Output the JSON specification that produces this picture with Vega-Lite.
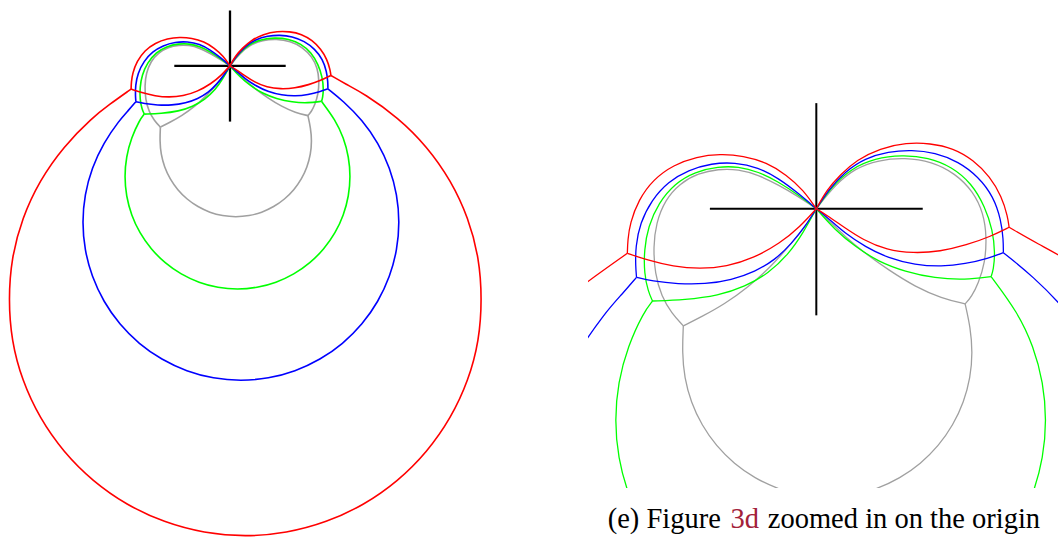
{
  "$schema": "https://vega.github.io/schema/vega-lite/v6.json",
  "padding": 0,
  "spacing": 98,
  "bounds": "flush",
  "background": "white",
  "config": {"view": {"stroke": null}},
  "datasets": {
    "cross": [
      {"seg": "h", "k": 0, "x": -55.7, "y": 0}, {"seg": "h", "k": 1, "x": 55.7, "y": 0},
      {"seg": "v", "k": 0, "x": 0, "y": -55.8}, {"seg": "v", "k": 1, "x": 0, "y": 55.3}
    ],
    "caption": [
      {"part": "(e) Figure", "x": -109.2, "y": -167.0},
      {"part": "3d", "x": -44.9, "y": -167.0},
      {"part": "zoomed in on the origin", "x": -25.4, "y": -167.0}
    ],
    "curves": [
      {"pen": "gray", "seg": "gLU", "k": 0, "x": 0, "y": 0},
      {"pen": "gray", "seg": "gLU", "k": 1, "x": -9.4, "y": 6.4},
      {"pen": "gray", "seg": "gLU", "k": 2, "x": -19.9, "y": 12.5},
      {"pen": "gray", "seg": "gLU", "k": 3, "x": -30.4, "y": 17.7},
      {"pen": "gray", "seg": "gLU", "k": 4, "x": -40.8, "y": 20.7},
      {"pen": "gray", "seg": "gLU", "k": 5, "x": -51.3, "y": 20.8},
      {"pen": "gray", "seg": "gLU", "k": 6, "x": -61.8, "y": 18.6},
      {"pen": "gray", "seg": "gLU", "k": 7, "x": -71.4, "y": 13.3},
      {"pen": "gray", "seg": "gLU", "k": 8, "x": -79.2, "y": 4.6},
      {"pen": "gray", "seg": "gLU", "k": 9, "x": -83.9, "y": -7.6},
      {"pen": "gray", "seg": "gLU", "k": 10, "x": -85.3, "y": -19.9},
      {"pen": "gray", "seg": "gLU", "k": 11, "x": -84.5, "y": -33.9},
      {"pen": "gray", "seg": "gLU", "k": 12, "x": -81.0, "y": -46.0},
      {"pen": "gray", "seg": "gLU", "k": 13, "x": -75.7, "y": -54.7},
      {"pen": "gray", "seg": "gLU", "k": 14, "x": -69.6, "y": -61.3},
      {"pen": "gray", "seg": "gLL", "k": 0, "x": -69.6, "y": -61.3},
      {"pen": "gray", "seg": "gLL", "k": 1, "x": -60.0, "y": -56.5},
      {"pen": "gray", "seg": "gLL", "k": 2, "x": -48.2, "y": -50.0},
      {"pen": "gray", "seg": "gLL", "k": 3, "x": -35.6, "y": -41.0},
      {"pen": "gray", "seg": "gLL", "k": 4, "x": -23.4, "y": -30.0},
      {"pen": "gray", "seg": "gLL", "k": 5, "x": -12.9, "y": -18.0},
      {"pen": "gray", "seg": "gLL", "k": 6, "x": -5.1, "y": -8.5},
      {"pen": "gray", "seg": "gLL", "k": 7, "x": 0, "y": 0},
      {"pen": "gray", "seg": "gRU", "k": 0, "x": 0, "y": 0},
      {"pen": "gray", "seg": "gRU", "k": 1, "x": 9.8, "y": 12.5},
      {"pen": "gray", "seg": "gRU", "k": 2, "x": 20.3, "y": 21.2},
      {"pen": "gray", "seg": "gRU", "k": 3, "x": 32.5, "y": 25.5},
      {"pen": "gray", "seg": "gRU", "k": 4, "x": 46.4, "y": 26.8},
      {"pen": "gray", "seg": "gRU", "k": 5, "x": 60.4, "y": 24.7},
      {"pen": "gray", "seg": "gRU", "k": 6, "x": 72.6, "y": 18.6},
      {"pen": "gray", "seg": "gRU", "k": 7, "x": 82.2, "y": 9.0},
      {"pen": "gray", "seg": "gRU", "k": 8, "x": 87.5, "y": -2.4},
      {"pen": "gray", "seg": "gRU", "k": 9, "x": 89.2, "y": -14.6},
      {"pen": "gray", "seg": "gRU", "k": 10, "x": 88.3, "y": -28.5},
      {"pen": "gray", "seg": "gRU", "k": 11, "x": 84.8, "y": -39.0},
      {"pen": "gray", "seg": "gRU", "k": 12, "x": 81.3, "y": -46.0},
      {"pen": "gray", "seg": "gRU", "k": 13, "x": 77.9, "y": -49.8},
      {"pen": "gray", "seg": "gRL", "k": 0, "x": 77.9, "y": -49.8},
      {"pen": "gray", "seg": "gRL", "k": 1, "x": 65.6, "y": -46.9},
      {"pen": "gray", "seg": "gRL", "k": 2, "x": 51.7, "y": -40.8},
      {"pen": "gray", "seg": "gRL", "k": 3, "x": 37.7, "y": -32.0},
      {"pen": "gray", "seg": "gRL", "k": 4, "x": 25.5, "y": -23.3},
      {"pen": "gray", "seg": "gRL", "k": 5, "x": 15.0, "y": -14.6},
      {"pen": "gray", "seg": "gRL", "k": 6, "x": 6.3, "y": -5.9},
      {"pen": "gray", "seg": "gRL", "k": 7, "x": 0, "y": 0},
      {"pen": "gray", "seg": "gC", "k": 0, "x": -69.6, "y": -61.3},
      {"pen": "gray", "seg": "gC", "k": 1, "x": -70.2, "y": -75.3},
      {"pen": "gray", "seg": "gC", "k": 2, "x": -69.05, "y": -88.5},
      {"pen": "gray", "seg": "gC", "k": 3, "x": -65.6, "y": -101.3},
      {"pen": "gray", "seg": "gC", "k": 4, "x": -60.0, "y": -113.3},
      {"pen": "gray", "seg": "gC", "k": 5, "x": -52.4, "y": -124.15},
      {"pen": "gray", "seg": "gC", "k": 6, "x": -43.05, "y": -133.5},
      {"pen": "gray", "seg": "gC", "k": 7, "x": -32.2, "y": -141.1},
      {"pen": "gray", "seg": "gC", "k": 8, "x": -20.2, "y": -146.7},
      {"pen": "gray", "seg": "gC", "k": 9, "x": -7.4, "y": -150.15},
      {"pen": "gray", "seg": "gC", "k": 10, "x": 5.8, "y": -151.3},
      {"pen": "gray", "seg": "gC", "k": 11, "x": 19.0, "y": -150.15},
      {"pen": "gray", "seg": "gC", "k": 12, "x": 31.8, "y": -146.7},
      {"pen": "gray", "seg": "gC", "k": 13, "x": 43.8, "y": -141.1},
      {"pen": "gray", "seg": "gC", "k": 14, "x": 54.65, "y": -133.5},
      {"pen": "gray", "seg": "gC", "k": 15, "x": 64.0, "y": -124.15},
      {"pen": "gray", "seg": "gC", "k": 16, "x": 71.6, "y": -113.3},
      {"pen": "gray", "seg": "gC", "k": 17, "x": 77.2, "y": -101.3},
      {"pen": "gray", "seg": "gC", "k": 18, "x": 80.65, "y": -88.5},
      {"pen": "gray", "seg": "gC", "k": 19, "x": 81.8, "y": -75.3},
      {"pen": "gray", "seg": "gC", "k": 20, "x": 80.65, "y": -62.1},
      {"pen": "gray", "seg": "gC", "k": 21, "x": 77.9, "y": -49.8},

      {"pen": "green", "seg": "nLU", "k": 0, "x": 0, "y": 0},
      {"pen": "green", "seg": "nLU", "k": 1, "x": -9.4, "y": 7.2},
      {"pen": "green", "seg": "nLU", "k": 2, "x": -19.9, "y": 14.2},
      {"pen": "green", "seg": "nLU", "k": 3, "x": -30.4, "y": 19.4},
      {"pen": "green", "seg": "nLU", "k": 4, "x": -40.8, "y": 22.1},
      {"pen": "green", "seg": "nLU", "k": 5, "x": -51.3, "y": 22.1},
      {"pen": "green", "seg": "nLU", "k": 6, "x": -63.5, "y": 19.4},
      {"pen": "green", "seg": "nLU", "k": 7, "x": -74.0, "y": 13.3},
      {"pen": "green", "seg": "nLU", "k": 8, "x": -82.7, "y": 2.9},
      {"pen": "green", "seg": "nLU", "k": 9, "x": -88.0, "y": -9.3},
      {"pen": "green", "seg": "nLU", "k": 10, "x": -90.1, "y": -21.5},
      {"pen": "green", "seg": "nLU", "k": 11, "x": -90.1, "y": -33.8},
      {"pen": "green", "seg": "nLU", "k": 12, "x": -88.0, "y": -43.4},
      {"pen": "green", "seg": "nLU", "k": 13, "x": -85.7, "y": -48.3},
      {"pen": "green", "seg": "nLL", "k": 0, "x": -85.7, "y": -48.3},
      {"pen": "green", "seg": "nLL", "k": 1, "x": -68.8, "y": -47.7},
      {"pen": "green", "seg": "nLL", "k": 2, "x": -51.3, "y": -45.5},
      {"pen": "green", "seg": "nLL", "k": 3, "x": -37.3, "y": -40.8},
      {"pen": "green", "seg": "nLL", "k": 4, "x": -25.1, "y": -33.8},
      {"pen": "green", "seg": "nLL", "k": 5, "x": -14.7, "y": -24.0},
      {"pen": "green", "seg": "nLL", "k": 6, "x": -6.8, "y": -12.5},
      {"pen": "green", "seg": "nLL", "k": 7, "x": 0, "y": 0},
      {"pen": "green", "seg": "nRU", "k": 0, "x": 0, "y": 0},
      {"pen": "green", "seg": "nRU", "k": 1, "x": 8.0, "y": 11.6},
      {"pen": "green", "seg": "nRU", "k": 2, "x": 18.5, "y": 21.2},
      {"pen": "green", "seg": "nRU", "k": 3, "x": 30.7, "y": 26.4},
      {"pen": "green", "seg": "nRU", "k": 4, "x": 44.7, "y": 28.2},
      {"pen": "green", "seg": "nRU", "k": 5, "x": 58.7, "y": 26.9},
      {"pen": "green", "seg": "nRU", "k": 6, "x": 70.9, "y": 22.0},
      {"pen": "green", "seg": "nRU", "k": 7, "x": 81.3, "y": 13.3},
      {"pen": "green", "seg": "nRU", "k": 8, "x": 88.3, "y": 1.1},
      {"pen": "green", "seg": "nRU", "k": 9, "x": 92.3, "y": -11.1},
      {"pen": "green", "seg": "nRU", "k": 10, "x": 93.6, "y": -23.3},
      {"pen": "green", "seg": "nRU", "k": 11, "x": 92.7, "y": -32.0},
      {"pen": "green", "seg": "nRU", "k": 12, "x": 91.5, "y": -35.5},
      {"pen": "green", "seg": "nRL", "k": 0, "x": 91.5, "y": -35.5},
      {"pen": "green", "seg": "nRL", "k": 1, "x": 77.9, "y": -37.3},
      {"pen": "green", "seg": "nRL", "k": 2, "x": 62.1, "y": -36.4},
      {"pen": "green", "seg": "nRL", "k": 3, "x": 46.4, "y": -32.9},
      {"pen": "green", "seg": "nRL", "k": 4, "x": 32.5, "y": -27.7},
      {"pen": "green", "seg": "nRL", "k": 5, "x": 20.3, "y": -19.8},
      {"pen": "green", "seg": "nRL", "k": 6, "x": 9.8, "y": -11.1},
      {"pen": "green", "seg": "nRL", "k": 7, "x": 0, "y": 0},
      {"pen": "green", "seg": "nC", "k": 0, "x": -85.7, "y": -48.3},
      {"pen": "green", "seg": "nC", "k": 1, "x": -90.4, "y": -54.2},
      {"pen": "green", "seg": "nC", "k": 2, "x": -98.7, "y": -72.1},
      {"pen": "green", "seg": "nC", "k": 3, "x": -103.8, "y": -91.1},
      {"pen": "green", "seg": "nC", "k": 4, "x": -105.5, "y": -110.7},
      {"pen": "green", "seg": "nC", "k": 5, "x": -103.8, "y": -130.3},
      {"pen": "green", "seg": "nC", "k": 6, "x": -98.7, "y": -149.3},
      {"pen": "green", "seg": "nC", "k": 7, "x": -90.4, "y": -167.2},
      {"pen": "green", "seg": "nC", "k": 8, "x": -79.1, "y": -183.3},
      {"pen": "green", "seg": "nC", "k": 9, "x": -65.1, "y": -197.3},
      {"pen": "green", "seg": "nC", "k": 10, "x": -49.0, "y": -208.6},
      {"pen": "green", "seg": "nC", "k": 11, "x": -31.1, "y": -216.9},
      {"pen": "green", "seg": "nC", "k": 12, "x": -12.1, "y": -222.0},
      {"pen": "green", "seg": "nC", "k": 13, "x": 7.5, "y": -223.7},
      {"pen": "green", "seg": "nC", "k": 14, "x": 27.1, "y": -222.0},
      {"pen": "green", "seg": "nC", "k": 15, "x": 46.1, "y": -216.9},
      {"pen": "green", "seg": "nC", "k": 16, "x": 64.0, "y": -208.6},
      {"pen": "green", "seg": "nC", "k": 17, "x": 80.1, "y": -197.3},
      {"pen": "green", "seg": "nC", "k": 18, "x": 94.1, "y": -183.3},
      {"pen": "green", "seg": "nC", "k": 19, "x": 105.4, "y": -167.2},
      {"pen": "green", "seg": "nC", "k": 20, "x": 113.7, "y": -149.3},
      {"pen": "green", "seg": "nC", "k": 21, "x": 118.8, "y": -130.3},
      {"pen": "green", "seg": "nC", "k": 22, "x": 120.5, "y": -110.7},
      {"pen": "green", "seg": "nC", "k": 23, "x": 118.8, "y": -91.1},
      {"pen": "green", "seg": "nC", "k": 24, "x": 113.7, "y": -72.1},
      {"pen": "green", "seg": "nC", "k": 25, "x": 105.4, "y": -54.2},
      {"pen": "green", "seg": "nC", "k": 26, "x": 91.5, "y": -35.5},

      {"pen": "blue", "seg": "bLU", "k": 0, "x": 0, "y": 0},
      {"pen": "blue", "seg": "bLU", "k": 1, "x": -9.4, "y": 8.1},
      {"pen": "blue", "seg": "bLU", "k": 2, "x": -19.9, "y": 16.0},
      {"pen": "blue", "seg": "bLU", "k": 3, "x": -30.4, "y": 21.7},
      {"pen": "blue", "seg": "bLU", "k": 4, "x": -42.6, "y": 24.3},
      {"pen": "blue", "seg": "bLU", "k": 5, "x": -54.8, "y": 23.8},
      {"pen": "blue", "seg": "bLU", "k": 6, "x": -67.0, "y": 20.3},
      {"pen": "blue", "seg": "bLU", "k": 7, "x": -77.5, "y": 14.2},
      {"pen": "blue", "seg": "bLU", "k": 8, "x": -86.2, "y": 4.6},
      {"pen": "blue", "seg": "bLU", "k": 9, "x": -92.3, "y": -7.6},
      {"pen": "blue", "seg": "bLU", "k": 10, "x": -94.6, "y": -19.8},
      {"pen": "blue", "seg": "bLU", "k": 11, "x": -94.6, "y": -30.3},
      {"pen": "blue", "seg": "bLU", "k": 12, "x": -94.1, "y": -35.9},
      {"pen": "blue", "seg": "bLL", "k": 0, "x": -94.1, "y": -35.9},
      {"pen": "blue", "seg": "bLL", "k": 1, "x": -86.2, "y": -37.8},
      {"pen": "blue", "seg": "bLL", "k": 2, "x": -72.3, "y": -39.4},
      {"pen": "blue", "seg": "bLL", "k": 3, "x": -58.3, "y": -39.5},
      {"pen": "blue", "seg": "bLL", "k": 4, "x": -44.3, "y": -37.3},
      {"pen": "blue", "seg": "bLL", "k": 5, "x": -32.1, "y": -32.9},
      {"pen": "blue", "seg": "bLL", "k": 6, "x": -21.6, "y": -26.8},
      {"pen": "blue", "seg": "bLL", "k": 7, "x": -12.9, "y": -18.1},
      {"pen": "blue", "seg": "bLL", "k": 8, "x": -5.9, "y": -9.4},
      {"pen": "blue", "seg": "bLL", "k": 9, "x": 0, "y": 0},
      {"pen": "blue", "seg": "bRU", "k": 0, "x": 0, "y": 0},
      {"pen": "blue", "seg": "bRU", "k": 1, "x": 6.3, "y": 9.8},
      {"pen": "blue", "seg": "bRU", "k": 2, "x": 15.0, "y": 19.4},
      {"pen": "blue", "seg": "bRU", "k": 3, "x": 25.5, "y": 26.4},
      {"pen": "blue", "seg": "bRU", "k": 4, "x": 37.7, "y": 29.9},
      {"pen": "blue", "seg": "bRU", "k": 5, "x": 49.9, "y": 30.8},
      {"pen": "blue", "seg": "bRU", "k": 6, "x": 62.1, "y": 29.4},
      {"pen": "blue", "seg": "bRU", "k": 7, "x": 74.4, "y": 24.7},
      {"pen": "blue", "seg": "bRU", "k": 8, "x": 84.8, "y": 16.8},
      {"pen": "blue", "seg": "bRU", "k": 9, "x": 92.7, "y": 6.4},
      {"pen": "blue", "seg": "bRU", "k": 10, "x": 96.7, "y": -5.9},
      {"pen": "blue", "seg": "bRU", "k": 11, "x": 97.9, "y": -16.3},
      {"pen": "blue", "seg": "bRU", "k": 12, "x": 97.9, "y": -23.0},
      {"pen": "blue", "seg": "bRL", "k": 0, "x": 97.9, "y": -23.0},
      {"pen": "blue", "seg": "bRL", "k": 1, "x": 90.1, "y": -25.9},
      {"pen": "blue", "seg": "bRL", "k": 2, "x": 77.9, "y": -28.9},
      {"pen": "blue", "seg": "bRL", "k": 3, "x": 65.6, "y": -30.3},
      {"pen": "blue", "seg": "bRL", "k": 4, "x": 51.7, "y": -29.4},
      {"pen": "blue", "seg": "bRL", "k": 5, "x": 37.7, "y": -25.9},
      {"pen": "blue", "seg": "bRL", "k": 6, "x": 25.5, "y": -19.8},
      {"pen": "blue", "seg": "bRL", "k": 7, "x": 15.0, "y": -12.9},
      {"pen": "blue", "seg": "bRL", "k": 8, "x": 6.3, "y": -5.0},
      {"pen": "blue", "seg": "bRL", "k": 9, "x": 0, "y": 0},
      {"pen": "blue", "seg": "bC", "k": 0, "x": -94.1, "y": -35.9},
      {"pen": "blue", "seg": "bC", "k": 1, "x": -101.3, "y": -44.3},
      {"pen": "blue", "seg": "bC", "k": 2, "x": -110.7, "y": -54.5},
      {"pen": "blue", "seg": "bC", "k": 3, "x": -126.5, "y": -77.15},
      {"pen": "blue", "seg": "bC", "k": 4, "x": -138.2, "y": -102.2},
      {"pen": "blue", "seg": "bC", "k": 5, "x": -145.4, "y": -128.95},
      {"pen": "blue", "seg": "bC", "k": 6, "x": -147.8, "y": -156.5},
      {"pen": "blue", "seg": "bC", "k": 7, "x": -145.4, "y": -184.05},
      {"pen": "blue", "seg": "bC", "k": 8, "x": -138.2, "y": -210.8},
      {"pen": "blue", "seg": "bC", "k": 9, "x": -126.5, "y": -235.85},
      {"pen": "blue", "seg": "bC", "k": 10, "x": -110.7, "y": -258.5},
      {"pen": "blue", "seg": "bC", "k": 11, "x": -91.1, "y": -278.1},
      {"pen": "blue", "seg": "bC", "k": 12, "x": -68.45, "y": -293.9},
      {"pen": "blue", "seg": "bC", "k": 13, "x": -43.4, "y": -305.6},
      {"pen": "blue", "seg": "bC", "k": 14, "x": -16.65, "y": -312.8},
      {"pen": "blue", "seg": "bC", "k": 15, "x": 10.9, "y": -315.2},
      {"pen": "blue", "seg": "bC", "k": 16, "x": 38.45, "y": -312.8},
      {"pen": "blue", "seg": "bC", "k": 17, "x": 65.2, "y": -305.6},
      {"pen": "blue", "seg": "bC", "k": 18, "x": 90.25, "y": -293.9},
      {"pen": "blue", "seg": "bC", "k": 19, "x": 112.9, "y": -278.1},
      {"pen": "blue", "seg": "bC", "k": 20, "x": 132.5, "y": -258.5},
      {"pen": "blue", "seg": "bC", "k": 21, "x": 148.3, "y": -235.85},
      {"pen": "blue", "seg": "bC", "k": 22, "x": 160.0, "y": -210.8},
      {"pen": "blue", "seg": "bC", "k": 23, "x": 167.2, "y": -184.05},
      {"pen": "blue", "seg": "bC", "k": 24, "x": 169.6, "y": -156.5},
      {"pen": "blue", "seg": "bC", "k": 25, "x": 167.2, "y": -128.95},
      {"pen": "blue", "seg": "bC", "k": 26, "x": 160.0, "y": -102.2},
      {"pen": "blue", "seg": "bC", "k": 27, "x": 148.3, "y": -77.15},
      {"pen": "blue", "seg": "bC", "k": 28, "x": 132.5, "y": -54.5},
      {"pen": "blue", "seg": "bC", "k": 29, "x": 112.9, "y": -34.9},
      {"pen": "blue", "seg": "bC", "k": 30, "x": 97.9, "y": -23.0},

      {"pen": "red", "seg": "rLU", "k": 0, "x": 0, "y": 0},
      {"pen": "red", "seg": "rLU", "k": 1, "x": -6.8, "y": 9.8},
      {"pen": "red", "seg": "rLU", "k": 2, "x": -15.5, "y": 17.7},
      {"pen": "red", "seg": "rLU", "k": 3, "x": -26.0, "y": 24.2},
      {"pen": "red", "seg": "rLU", "k": 4, "x": -38.2, "y": 27.8},
      {"pen": "red", "seg": "rLU", "k": 5, "x": -50.4, "y": 28.7},
      {"pen": "red", "seg": "rLU", "k": 6, "x": -62.6, "y": 27.3},
      {"pen": "red", "seg": "rLU", "k": 7, "x": -74.8, "y": 22.9},
      {"pen": "red", "seg": "rLU", "k": 8, "x": -85.3, "y": 15.4},
      {"pen": "red", "seg": "rLU", "k": 9, "x": -93.1, "y": 4.6},
      {"pen": "red", "seg": "rLU", "k": 10, "x": -97.5, "y": -7.6},
      {"pen": "red", "seg": "rLU", "k": 11, "x": -98.7, "y": -16.4},
      {"pen": "red", "seg": "rLU", "k": 12, "x": -98.9, "y": -23.3},
      {"pen": "red", "seg": "rLL", "k": 0, "x": -98.9, "y": -23.3},
      {"pen": "red", "seg": "rLL", "k": 1, "x": -88.8, "y": -26.8},
      {"pen": "red", "seg": "rLL", "k": 2, "x": -74.8, "y": -30.3},
      {"pen": "red", "seg": "rLL", "k": 3, "x": -60.9, "y": -31.5},
      {"pen": "red", "seg": "rLL", "k": 4, "x": -46.9, "y": -30.3},
      {"pen": "red", "seg": "rLL", "k": 5, "x": -33.0, "y": -25.9},
      {"pen": "red", "seg": "rLL", "k": 6, "x": -19.0, "y": -18.1},
      {"pen": "red", "seg": "rLL", "k": 7, "x": -8.5, "y": -9.4},
      {"pen": "red", "seg": "rLL", "k": 8, "x": 0, "y": 0},
      {"pen": "red", "seg": "rRU", "k": 0, "x": 0, "y": 0},
      {"pen": "red", "seg": "rRU", "k": 1, "x": 5.4, "y": 9.8},
      {"pen": "red", "seg": "rRU", "k": 2, "x": 12.4, "y": 17.7},
      {"pen": "red", "seg": "rRU", "k": 3, "x": 21.1, "y": 25.5},
      {"pen": "red", "seg": "rRU", "k": 4, "x": 33.3, "y": 31.7},
      {"pen": "red", "seg": "rRU", "k": 5, "x": 47.3, "y": 34.6},
      {"pen": "red", "seg": "rRU", "k": 6, "x": 59.5, "y": 34.3},
      {"pen": "red", "seg": "rRU", "k": 7, "x": 71.7, "y": 31.7},
      {"pen": "red", "seg": "rRU", "k": 8, "x": 82.2, "y": 25.5},
      {"pen": "red", "seg": "rRU", "k": 9, "x": 90.9, "y": 16.8},
      {"pen": "red", "seg": "rRU", "k": 10, "x": 97.0, "y": 6.4},
      {"pen": "red", "seg": "rRU", "k": 11, "x": 100.2, "y": -4.1},
      {"pen": "red", "seg": "rRU", "k": 12, "x": 100.9, "y": -9.7},
      {"pen": "red", "seg": "rRL", "k": 0, "x": 100.9, "y": -9.7},
      {"pen": "red", "seg": "rRL", "k": 1, "x": 91.0, "y": -14.6},
      {"pen": "red", "seg": "rRL", "k": 2, "x": 78.7, "y": -19.0},
      {"pen": "red", "seg": "rRL", "k": 3, "x": 64.8, "y": -22.4},
      {"pen": "red", "seg": "rRL", "k": 4, "x": 50.8, "y": -23.3},
      {"pen": "red", "seg": "rRL", "k": 5, "x": 36.8, "y": -21.6},
      {"pen": "red", "seg": "rRL", "k": 6, "x": 24.6, "y": -16.4},
      {"pen": "red", "seg": "rRL", "k": 7, "x": 14.1, "y": -9.4},
      {"pen": "red", "seg": "rRL", "k": 8, "x": 5.4, "y": -3.3},
      {"pen": "red", "seg": "rRL", "k": 9, "x": 0, "y": 0},
      {"pen": "red", "seg": "rC", "k": 0, "x": -98.9, "y": -23.3},
      {"pen": "red", "seg": "rC", "k": 1, "x": -120.9, "y": -38.9},
      {"pen": "red", "seg": "rC", "k": 2, "x": -137.4, "y": -51.6},
      {"pen": "red", "seg": "rC", "k": 3, "x": -166.6, "y": -80.8},
      {"pen": "red", "seg": "rC", "k": 4, "x": -190.4, "y": -114.75},
      {"pen": "red", "seg": "rC", "k": 5, "x": -207.9, "y": -152.3},
      {"pen": "red", "seg": "rC", "k": 6, "x": -218.6, "y": -192.3},
      {"pen": "red", "seg": "rC", "k": 7, "x": -221.5, "y": -233.5},
      {"pen": "red", "seg": "rC", "k": 8, "x": -218.6, "y": -274.7},
      {"pen": "red", "seg": "rC", "k": 9, "x": -207.9, "y": -314.7},
      {"pen": "red", "seg": "rC", "k": 10, "x": -190.4, "y": -352.25},
      {"pen": "red", "seg": "rC", "k": 11, "x": -166.6, "y": -386.2},
      {"pen": "red", "seg": "rC", "k": 12, "x": -137.4, "y": -415.4},
      {"pen": "red", "seg": "rC", "k": 13, "x": -103.45, "y": -439.2},
      {"pen": "red", "seg": "rC", "k": 14, "x": -65.9, "y": -456.7},
      {"pen": "red", "seg": "rC", "k": 15, "x": -25.9, "y": -467.4},
      {"pen": "red", "seg": "rC", "k": 16, "x": 15.3, "y": -471.0},
      {"pen": "red", "seg": "rC", "k": 17, "x": 56.5, "y": -467.4},
      {"pen": "red", "seg": "rC", "k": 18, "x": 96.5, "y": -456.7},
      {"pen": "red", "seg": "rC", "k": 19, "x": 134.05, "y": -439.2},
      {"pen": "red", "seg": "rC", "k": 20, "x": 168.0, "y": -415.4},
      {"pen": "red", "seg": "rC", "k": 21, "x": 197.2, "y": -386.2},
      {"pen": "red", "seg": "rC", "k": 22, "x": 221.0, "y": -352.25},
      {"pen": "red", "seg": "rC", "k": 23, "x": 238.5, "y": -314.7},
      {"pen": "red", "seg": "rC", "k": 24, "x": 249.2, "y": -274.7},
      {"pen": "red", "seg": "rC", "k": 25, "x": 252.0, "y": -233.5},
      {"pen": "red", "seg": "rC", "k": 26, "x": 249.2, "y": -192.3},
      {"pen": "red", "seg": "rC", "k": 27, "x": 238.5, "y": -152.3},
      {"pen": "red", "seg": "rC", "k": 28, "x": 221.0, "y": -114.75},
      {"pen": "red", "seg": "rC", "k": 29, "x": 197.2, "y": -80.8},
      {"pen": "red", "seg": "rC", "k": 30, "x": 168.0, "y": -51.6},
      {"pen": "red", "seg": "rC", "k": 31, "x": 134.05, "y": -27.8},
      {"pen": "red", "seg": "rC", "k": 32, "x": 115.7, "y": -18.3},
      {"pen": "red", "seg": "rC", "k": 33, "x": 100.9, "y": -9.7}
    ]
  },
  "hconcat": [
    {
      "width": 490,
      "height": 538,
      "layer": [
        {
          "data": {"name": "cross"},
          "mark": {"type": "line", "color": "#000000", "strokeWidth": 2.3},
          "encoding": {
            "x": {"field": "x", "type": "quantitative", "scale": {"domain": [-230, 260], "nice": false, "zero": false}, "axis": null},
            "y": {"field": "y", "type": "quantitative", "scale": {"domain": [-472.2, 65.8], "nice": false, "zero": false}, "axis": null},
            "detail": {"field": "seg"},
            "order": {"field": "k"}
          }
        },
        {
          "data": {"name": "curves"},
          "mark": {"type": "line", "strokeWidth": 1.6, "interpolate": "basis"},
          "encoding": {
            "x": {"field": "x", "type": "quantitative", "scale": {"domain": [-230, 260], "nice": false, "zero": false}, "axis": null},
            "y": {"field": "y", "type": "quantitative", "scale": {"domain": [-472.2, 65.8], "nice": false, "zero": false}, "axis": null},
            "color": {"field": "pen", "type": "nominal", "scale": {"domain": ["gray", "green", "blue", "red"], "range": ["#a0a0a0", "#00ff00", "#0000ff", "#ff0000"]}, "legend": null},
            "detail": {"field": "seg"},
            "order": {"field": "k"}
          }
        }
      ]
    },
    {
      "width": 470,
      "height": 488,
      "layer": [
        {
          "data": {"name": "cross"},
          "mark": {"type": "line", "color": "#000000", "strokeWidth": 2, "clip": true},
          "encoding": {
            "x": {"field": "x", "type": "quantitative", "scale": {"domain": [-119.5, 126.5], "nice": false, "zero": false}, "axis": null},
            "y": {"field": "y", "type": "quantitative", "scale": {"domain": [-146.2, 109.3], "nice": false, "zero": false}, "axis": null},
            "detail": {"field": "seg"},
            "order": {"field": "k"}
          }
        },
        {
          "data": {"name": "curves"},
          "mark": {"type": "line", "strokeWidth": 1.3, "interpolate": "basis", "clip": true},
          "encoding": {
            "x": {"field": "x", "type": "quantitative", "scale": {"domain": [-119.5, 126.5], "nice": false, "zero": false}, "axis": null},
            "y": {"field": "y", "type": "quantitative", "scale": {"domain": [-146.2, 109.3], "nice": false, "zero": false}, "axis": null},
            "color": {"field": "pen", "type": "nominal", "scale": {"domain": ["gray", "green", "blue", "red"], "range": ["#a0a0a0", "#00ff00", "#0000ff", "#ff0000"]}, "legend": null},
            "detail": {"field": "seg"},
            "order": {"field": "k"}
          }
        },
        {
          "data": {"name": "caption"},
          "mark": {"type": "text", "align": "left", "baseline": "alphabetic", "font": "Liberation Serif", "fontSize": 28.5},
          "encoding": {
            "x": {"field": "x", "type": "quantitative", "scale": {"domain": [-119.5, 126.5], "nice": false, "zero": false}, "axis": null},
            "y": {"field": "y", "type": "quantitative", "scale": {"domain": [-146.2, 109.3], "nice": false, "zero": false}, "axis": null},
            "text": {"field": "part"},
            "color": {"condition": {"test": "datum.part === '3d'", "value": "#a3213a"}, "value": "#000000"}
          }
        }
      ]
    }
  ]
}
